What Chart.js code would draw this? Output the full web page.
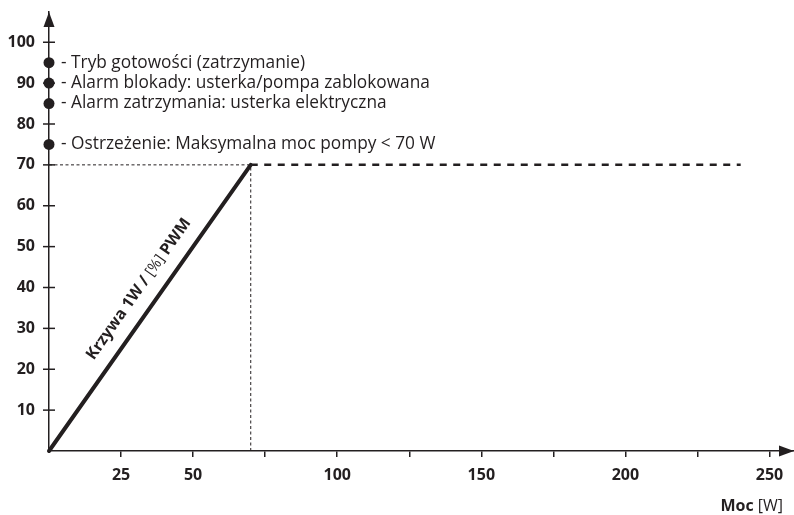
<!DOCTYPE html>
<html>
<head>
<meta charset="utf-8">
<script src="https://cdn.jsdelivr.net/npm/chart.js@4.4.1/dist/chart.umd.min.js"></script>
<style>
    html, body { margin: 0; padding: 0; background: #fff; }
    #wrap { width: 794px; height: 515px; }
</style>
</head>
<body>
<div id="wrap"><canvas id="chart" width="794" height="515"></canvas></div>
<script>
// Dane wykresu
const rampPower = [0, 70];
const rampPwm = [0, 70];
const limitPower = [70, 240];
const limitPwm = [70, 70];
const guideHPower = [0, 70];
const guideHPwm = [70, 70];
const guideVPower = [70, 70];
const guideVPwm = [0, 70];
const statusPwm = [95, 90, 85, 75];
const statusLabels = [
    '- Tryb gotowości (zatrzymanie)',
    '- Alarm blokady: usterka/pompa zablokowana',
    '- Alarm zatrzymania: usterka elektryczna',
    '- Ostrzeżenie: Maksymalna moc pompy < 70 W'
];
const xTickValues = [25, 50, 75, 100, 125, 150, 175, 200, 225, 250];
const xTickLabels = ['25', '50', '', '100', '', '150', '', '200', '', '250'];
const yTickValues = [10, 20, 30, 40, 50, 60, 70, 80, 90, 100];
const yTickLabels = ['10', '20', '30', '40', '50', '60', '70', '80', '90', '100'];

const INK = '#231f20';
const FONT = '"Open Sans", "Noto Sans", sans-serif';

function pts(xs, ys) {
    return xs.map((x, i) => ({ x: x, y: ys[i] }));
}

// Strzałki osi, znaczniki osi Y i opisy
const decorPlugin = {
    id: 'decor',
    afterDraw(chart) {
        const ctx = chart.ctx;
        const xs = chart.scales.x;
        const ys = chart.scales.y;
        const x0 = xs.getPixelForValue(0);
        const y0 = ys.getPixelForValue(0);
        const area = chart.chartArea;
        ctx.save();
        ctx.fillStyle = INK;
        ctx.strokeStyle = INK;

        // strzałka osi Y
        ctx.beginPath();
        ctx.moveTo(x0, area.top);
        ctx.lineTo(x0 - 5.5, area.top + 15);
        ctx.lineTo(x0 + 5.5, area.top + 15);
        ctx.closePath();
        ctx.fill();

        // strzałka osi X
        ctx.beginPath();
        ctx.moveTo(area.right, y0);
        ctx.lineTo(area.right - 15, y0 - 5.5);
        ctx.lineTo(area.right - 15, y0 + 5.5);
        ctx.closePath();
        ctx.fill();

        // znaczniki osi Y (przecinające oś)
        ctx.lineWidth = 1.5;
        ys.ticks.forEach(t => {
            const py = ys.getPixelForValue(t.value);
            ctx.beginPath();
            ctx.moveTo(x0 - 6, py);
            ctx.lineTo(x0 + 6, py);
            ctx.stroke();
        });

        // opisy stanów
        ctx.font = '17.3px ' + FONT;
        ctx.textBaseline = 'middle';
        ctx.textAlign = 'left';
        statusPwm.forEach((v, i) => {
            ctx.fillText(statusLabels[i], x0 + 12, ys.getPixelForValue(v));
        });

        // opis krzywej
        const ax = xs.getPixelForValue(rampPower[0]);
        const ay = ys.getPixelForValue(rampPwm[0]);
        const bx = xs.getPixelForValue(rampPower[1]);
        const by = ys.getPixelForValue(rampPwm[1]);
        const ang = Math.atan2(by - ay, bx - ax);
        const mx = (ax + bx) / 2;
        const my = (ay + by) / 2;
        ctx.translate(mx, my);
        ctx.rotate(ang);
        ctx.translate(9, -20);
        const parts = [
            { t: 'Krzywa 1W / ', f: 'bold 16px ' + FONT },
            { t: '[%]', f: '15px ' + FONT },
            { t: ' PWM', f: 'bold 16px ' + FONT }
        ];
        let total = 0;
        parts.forEach(p => { ctx.font = p.f; total += ctx.measureText(p.t).width; });
        let cx = -total / 2;
        parts.forEach(p => {
            ctx.font = p.f;
            ctx.fillText(p.t, cx, 0);
            cx += ctx.measureText(p.t).width;
        });
        ctx.restore();

        // tytuł osi X
        ctx.save();
        ctx.fillStyle = INK;
        ctx.textBaseline = 'middle';
        ctx.textAlign = 'left';
        ctx.font = '16px ' + FONT;
        const unit = ' [W]';
        const uw = ctx.measureText(unit).width;
        ctx.font = 'bold 16px ' + FONT;
        const bw = ctx.measureText('Moc').width;
        const right = 783;
        ctx.fillText('Moc', right - uw - bw, 506);
        ctx.font = '16px ' + FONT;
        ctx.fillText(unit, right - uw, 506);
        ctx.restore();
    }
};

new Chart(document.getElementById('chart'), {
    type: 'scatter',
    data: {
        datasets: [
            {
                data: pts(guideHPower, guideHPwm),
                showLine: true,
                borderColor: INK,
                borderWidth: 1,
                borderDash: [3, 2.5],
                pointRadius: 0
            },
            {
                data: pts(guideVPower, guideVPwm),
                showLine: true,
                borderColor: INK,
                borderWidth: 1,
                borderDash: [3, 2.5],
                pointRadius: 0
            },
            {
                data: pts(limitPower, limitPwm),
                showLine: true,
                borderColor: INK,
                borderWidth: 2.5,
                borderDash: [7, 6.5],
                pointRadius: 0
            },
            {
                data: pts(rampPower, rampPwm),
                showLine: true,
                borderColor: INK,
                borderWidth: 4,
                borderCapStyle: 'round',
                pointRadius: 0
            },
            {
                data: statusPwm.map(v => ({ x: 0, y: v })),
                showLine: false,
                pointRadius: 5.5,
                pointBackgroundColor: INK,
                pointBorderColor: INK,
                pointBorderWidth: 0
            }
        ]
    },
    options: {
        responsive: false,
        animation: false,
        clip: false,
        layout: { autoPadding: false, padding: { top: 12, right: 0, left: 0, bottom: 0 } },
        plugins: {
            legend: { display: false },
            tooltip: { enabled: false }
        },
        scales: {
            x: {
                type: 'linear',
                min: 0,
                max: 258.5,
                afterBuildTicks(scale) {
                    scale.ticks = xTickValues.map(v => ({ value: v }));
                },
                afterFit(scale) {
                    scale.height = 64;
                    scale.paddingLeft = 0;
                    scale.paddingRight = 0;
                },
                ticks: {
                    autoSkip: false,
                    maxRotation: 0,
                    padding: 9,
                    color: INK,
                    font: { family: FONT, size: 16, weight: 'bold' },
                    callback: function(value) {
                        const i = xTickValues.indexOf(value);
                        return i >= 0 ? xTickLabels[i] : '';
                    }
                },
                grid: {
                    drawOnChartArea: false,
                    drawTicks: true,
                    tickLength: 6,
                    lineWidth: 1.5,
                    color: INK
                },
                border: { display: true, color: INK, width: 1.5 }
            },
            y: {
                type: 'linear',
                min: 0,
                max: 107.4,
                afterBuildTicks(scale) {
                    scale.ticks = yTickValues.map(v => ({ value: v }));
                },
                afterFit(scale) {
                    scale.width = 49;
                    scale.paddingTop = 0;
                    scale.paddingBottom = 0;
                },
                ticks: {
                    autoSkip: false,
                    padding: 14,
                    color: INK,
                    font: { family: FONT, size: 16, weight: 'bold' },
                    callback: function(value) {
                        const i = yTickValues.indexOf(value);
                        return i >= 0 ? yTickLabels[i] : '';
                    }
                },
                grid: {
                    display: true,
                    drawOnChartArea: false,
                    drawTicks: false,
                    color: 'rgba(0,0,0,0)'
                },
                border: { display: true, color: INK, width: 1.5 }
            }
        }
    },
    plugins: [decorPlugin]
});
</script>
</body>
</html>
